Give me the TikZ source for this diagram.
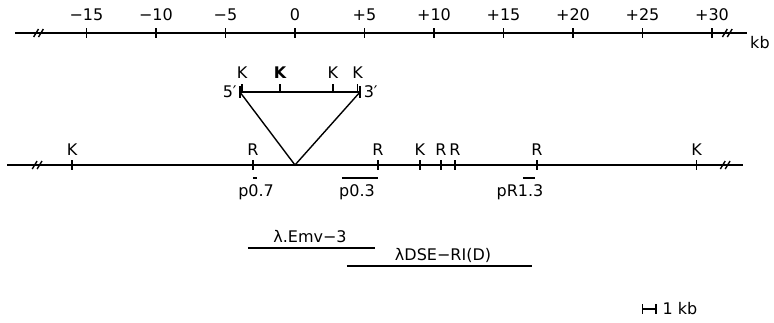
\documentclass[tikz,border=0pt]{standalone}
\usepackage{fontspec}
\setmainfont{DejaVu Sans}
\usetikzlibrary{positioning}

\tikzset{
  lbl/.style={font=\fontsize{16}{18}\selectfont, inner sep=0pt},
  brk/.pic={\draw (-0.35,4) -- (0,-4); \draw (0,4) -- (0.35,-4);}
}

\begin{document}
\begin{tikzpicture}[x=13.9pt, y=-1pt, line width=1.4pt]

        \useasboundingbox (-21.22,0) rectangle (34.46,322);

        % Top scale in kb
        \draw (-20.14,33) -- (32.5,33);
        \pic at (-18.45,33) {brk};
        \pic at (31.1,33) {brk};
        \foreach \k/\t [count=\i] in {-15/−15, -10/−10, -5/−5, 0/0, 5/+5, 10/+10, 15/+15, 20/+20, 25/+25, 30/+30}
        {
            \draw (\k,28) -- (\k,38);
            \node[lbl] (tick\i) at (\k,15) {\t};
        }
        \node[lbl, anchor=west] (kbunit) at (32.7,43) {kb};

        % Inserted provirus
        \coordinate (ins5) at (-3.96,92);
        \coordinate (ins3) at (4.68,92);
        \coordinate (site) at (0,165);
        \draw (ins5) -- (ins3);
        \draw (-3.96,86) -- (-3.96,98);
        \draw (4.68,86) -- (4.68,98);
        \foreach \k [count=\i] in {-3.8, 2.73, 4.5}
        {
            \draw (\k,84) -- (\k,92);
            \node[lbl] (ik\i) at (\k,73) {K};
        }
        \draw (-1.08,84) -- (-1.08,92);
        \node[lbl, font=\fontsize{16}{18}\selectfont\bfseries] (ikb) at (-1.08,73) {K};
        \node[lbl, anchor=east] (five) at (-4.15,92) {5′};
        \node[lbl, anchor=west] (three) at (4.9,92) {3′};
        \draw (ins5) -- (site) -- (ins3);

        % Genomic locus
        \draw (-20.7,165) -- (32.2,165);
        \pic at (-18.55,165) {brk};
        \pic at (30.95,165) {brk};
        \foreach \k/\t [count=\i] in {-16.04/K, -3.02/R, 5.97/R, 8.99/K, 10.5/R, 11.5/R, 17.4/R, 28.9/K}
        {
            \draw (\k,160) -- (\k,170);
            \node[lbl] (site\i) at (\k,150) {\t};
        }

        % Probes
        \draw (-3.02,178) -- (-2.75,178);
        \node[lbl] (p07) at (-2.8,192) {p0.7};
        \draw (3.38,178) -- (5.97,178);
        \node[lbl] (p03) at (4.46,192) {p0.3};
        \draw (16.4,178) -- (17.27,178);
        \node[lbl] (pr13) at (16.19,192) {pR1.3};

        % Phage clones
        \draw (-3.38,248) -- (5.76,248);
        \node[lbl] (emv) at (1.08,237) {λ.Emv−3};
        \draw (3.74,266) -- (17.05,266);
        \node[lbl] (dse) at (10.65,255) {λDSE−RI(D)};

        % 1 kb bar
        \draw (24.98,309) -- (25.98,309);
        \draw (24.98,304) -- (24.98,314);
        \draw (25.98,304) -- (25.98,314);
        \node[lbl, anchor=west] (onekb) at (26.4,309) {1 kb};

\end{tikzpicture}
\end{document}
